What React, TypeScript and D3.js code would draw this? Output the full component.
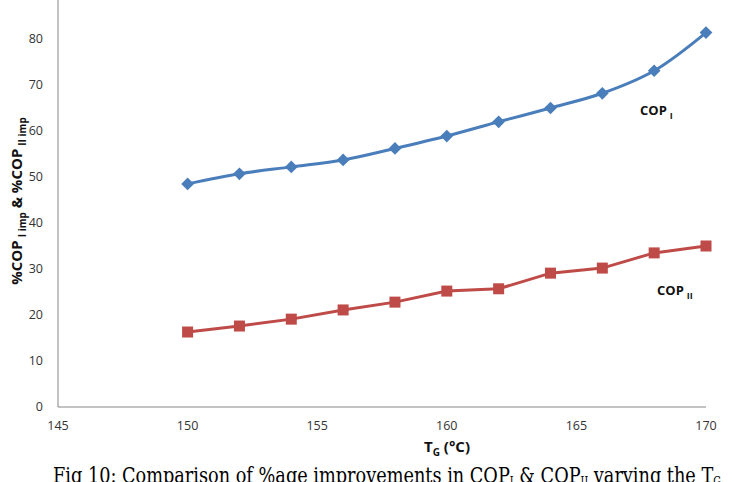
import React from 'react';
import * as d3 from 'd3';

// generator temperature (°C)
const tg = [150, 152, 154, 156, 158, 160, 162, 164, 166, 168, 170];
// % improvement in COP I
const copI = [48.5, 50.7, 52.2, 53.7, 56.2, 58.9, 62.0, 65.0, 68.2, 73.1, 81.4];
// % improvement in COP II
const copII = [16.3, 17.6, 19.1, 21.1, 22.8, 25.2, 25.7, 29.1, 30.2, 33.5, 35.0];
const xTicks = [145, 150, 155, 160, 165, 170];
const yTicks = [0, 10, 20, 30, 40, 50, 60, 70, 80];

const W = 734;
const H = 482;
const font = '"Open Sans", "Liberation Sans", sans-serif';

const App = () => {
  const x = d3.scaleLinear().domain([145, 170]).range([58, 706]);
  const y = d3.scaleLinear().domain([0, 90]).range([407, -7]);

  const smooth = d3.line<number>()
    .x((_, i) => x(tg[i]))
    .y(d => y(d))
    .curve(d3.curveCatmullRom.alpha(0.5));
  const straight = d3.line<number>()
    .x((_, i) => x(tg[i]))
    .y(d => y(d));

  const blue = '#4A7EBB';
  const red = '#BE4B48';

  return (
    <svg width={W} height={H} style={{ position: 'absolute', left: 0, top: 0, background: '#fff' }}>
      <rect width={W} height={H} fill="#fff" />
      {/* axes */}
      <line x1={x(145)} x2={x(145)} y1={y(0)} y2={0} stroke="#868686" strokeWidth={1} />
      <line x1={x(145)} x2={x(170)} y1={y(0)} y2={y(0)} stroke="#868686" strokeWidth={1} />
      {yTicks.map(t => (
        <text key={t} x={43} y={y(t)} dy="0.35em" textAnchor="end" fontFamily={font} fontSize={12.5} fill="#333">{t}</text>
      ))}
      {xTicks.map(t => (
        <text key={t} x={x(t)} y={430} textAnchor="middle" fontFamily={font} fontSize={12.5} fill="#333">{t}</text>
      ))}

      {/* series */}
      <path d={smooth(copI) || ''} fill="none" stroke={blue} strokeWidth={3} />
      {copI.map((v, i) => (
        <rect key={i} x={-4.5} y={-4.5} width={9} height={9} fill={blue}
          transform={`translate(${x(tg[i])},${y(v)}) rotate(45)`} />
      ))}
      <path d={straight(copII) || ''} fill="none" stroke={red} strokeWidth={3} />
      {copII.map((v, i) => (
        <rect key={i} x={x(tg[i]) - 5.5} y={y(v) - 5.5} width={11} height={11} fill={red} />
      ))}

      {/* series labels */}
      <text x={640} y={115} fontFamily={font} fontSize={13} fontWeight="bold" fill="#111">
        COP<tspan dx={3} fontSize={9} dy={4}>I</tspan>
      </text>
      <text x={657} y={295} fontFamily={font} fontSize={13} fontWeight="bold" fill="#111">
        COP<tspan dx={3} fontSize={9} dy={4}>II</tspan>
      </text>

      {/* axis titles */}
      <text transform="translate(22,201) rotate(-90)" textAnchor="middle" fontFamily={font} fontSize={15} fontWeight="bold" fill="#111">
        %COP<tspan dx={3} fontSize={10} dy={4}>I imp</tspan>
        <tspan dy={-4}> &amp; %COP</tspan>
        <tspan dx={3} fontSize={10} dy={4}>II imp</tspan>
      </text>
      <text x={447} y={452} textAnchor="middle" fontFamily={font} fontSize={15} fontWeight="bold" fill="#111">
        T<tspan fontSize={10} dy={4}>G</tspan><tspan dy={-4}> (°C)</tspan>
      </text>

      {/* caption */}
      <text x={53} y={483} fontFamily='"DejaVu Serif Condensed", "Liberation Serif", serif' fontSize={22}
        textLength={668} lengthAdjust="spacingAndGlyphs" fill="#000">
        Fig 10: Comparison of %age improvements in COP<tspan fontSize={12} dy={3}>I</tspan>
        <tspan dy={-3}> &amp; COP</tspan><tspan fontSize={12} dy={3}>II</tspan>
        <tspan dy={-3}> varying the T</tspan><tspan fontSize={12} dy={3}>G</tspan>
      </text>
    </svg>
  );
};

export default App;
